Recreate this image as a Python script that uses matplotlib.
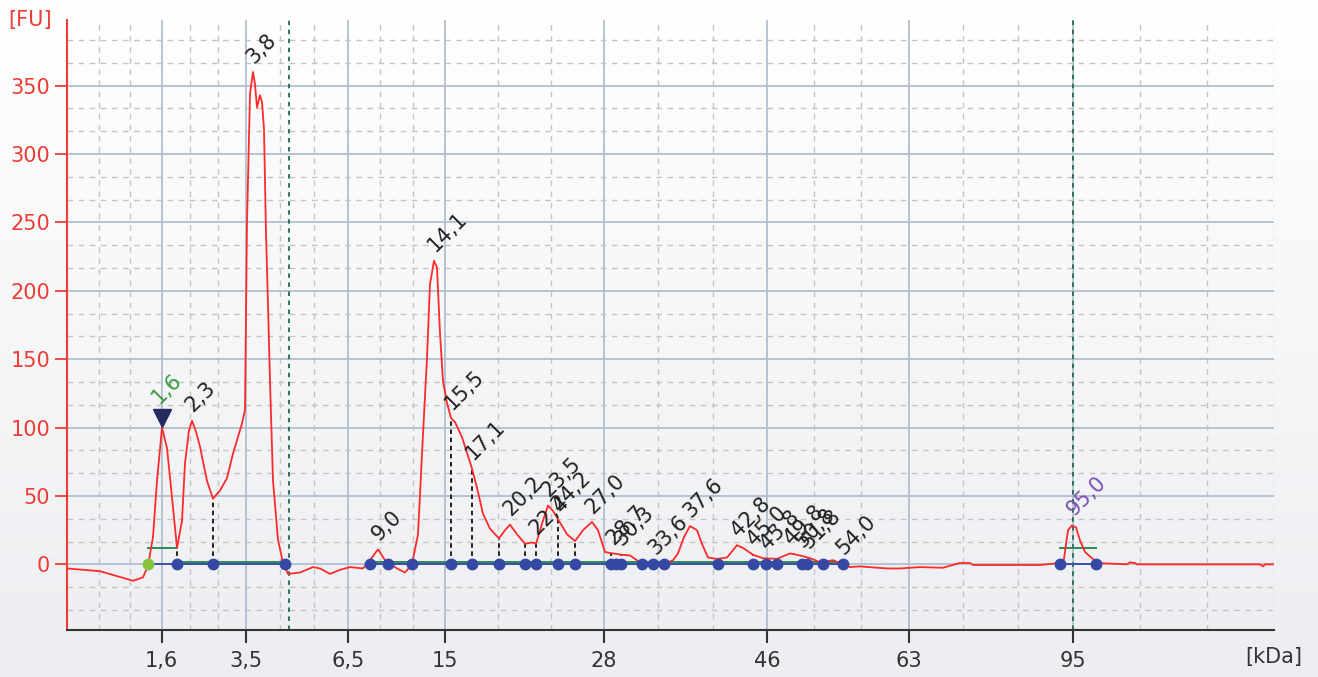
import numpy as np
import matplotlib.pyplot as plt

# migration position (arbitrary units) and fluorescence [FU]
trace_t = [0.0, 3.3, 6.6, 7.6, 8.1, 8.6, 9.0, 9.5, 10.0, 10.5, 11.0, 11.5, 11.8, 12.2, 12.5,
           12.9, 13.3, 14.0, 14.6, 15.3, 16.0, 16.6, 17.5, 17.8, 18.0, 18.3, 18.6, 18.8, 19.0,
           19.3, 19.5, 19.7, 19.9, 20.1, 20.3, 20.6, 21.1, 21.6, 22.1, 23.3, 24.6, 25.3, 26.3,
           27.3, 28.3, 29.6, 30.3, 31.1, 31.8, 33.0, 33.8, 34.5, 35.1, 35.6, 36.0, 36.3, 36.7,
           37.0, 37.3, 37.6, 38.0, 38.4, 38.8, 39.5, 40.5, 41.0, 41.6, 42.3, 43.2, 43.8, 44.3,
           45.0, 45.8, 46.5, 46.9, 47.6, 48.1, 48.6, 49.1, 50.0, 50.8, 51.6, 52.5, 53.1, 53.8,
           54.6, 55.5, 56.3, 57.0, 57.5, 59.6, 60.6, 61.1, 61.7, 62.3, 63.0, 63.5, 64.1, 65.0,
           66.0, 67.0, 67.6, 68.6, 69.6, 71.0, 72.3, 73.3, 74.3, 75.3, 76.6, 77.6, 78.3, 79.3,
           82.0, 83.3, 85.3, 87.6, 88.3, 89.3, 90.3, 90.6, 97.3, 99.3, 99.7, 100.1, 100.5,
           100.9, 101.3, 101.8, 102.5, 103.1, 106.0, 106.3, 106.8, 107.0, 119.3, 119.6, 119.8,
           120.6]
trace_fu = [-3, -5, -12, -9.5, -1, 20, 61, 100, 85, 49, 12, 32, 74, 98, 105,
            97, 86, 61, 48, 54, 63, 81, 103, 113, 250, 344, 360, 351, 334,
            343, 338, 318, 242, 190, 134, 61, 18, 1, -7, -6, -2, -3, -7,
            -4, -2, -3, 3, 11, 3, -3, -6, 0, 22, 95, 151, 205, 222,
            217, 169, 134, 118, 107, 104, 93, 70, 56, 37, 26, 19, 25, 29,
            22, 15, 16, 15, 32, 43, 39, 33, 22, 17, 25, 31, 25, 9,
            8, 7, 6.5, 3, 0, 0, 3, 8, 20, 28, 25, 15, 5, 4,
            5, 14, 12, 7, 4.5, 4, 8, 6.5, 4.5, 1.5, 3, 0, -2, -1.5,
            -3, -3, -2, -2.5, -1, 1, 1, -0.5, -0.5, 1, 4, 25, 28.5,
            27, 17.5, 9, 4.5, 1, 0, 1.5, 1, 0, 0, -1.5, 0,
            0]

# ladder: position of each size marker on the migration axis
ladder_t = [9.47, 17.87, 28.1, 37.8, 53.7, 70.0, 84.15, 100.63]
ladder_kda = ['1,6', '3,5', '6,5', '15', '28', '46', '63', '95']

# peaks: position, height, size label
peak_t = [12.5, 18.6, 31.1, 36.7, 38.4, 40.5, 44.3, 46.9, 48.1, 49.1, 52.5, 54.6, 55.4,
          58.8, 62.3, 67.0, 68.6, 69.9, 72.3, 73.5, 74.1, 77.6]
peak_fu = [105, 360, 11, 222, 107, 70, 29, 15, 43, 33, 31, 8, 7,
           1, 28, 14, 7, 4.5, 8, 6, 5, 1]
peak_lbl = ['2,3', '3,8', '9,0', '14,1', '15,5', '17,1', '20,2', '22,4', '23,5', '24,2', '27,0',
            '28,7', '30,3', '33,6', '37,6', '42,8', '45,0', '45,8', '49,8', '50,8', '51,8', '54,0']
lower_marker = (9.5, 100, '1,6')
upper_marker = (100.5, 28.5, '95,0')

# baseline / peak-boundary points
bound_t = [11.0, 14.6, 21.8, 30.3, 32.1, 34.5, 38.4, 40.5, 43.2, 45.8, 46.9, 49.1, 50.8,
           54.4, 54.9, 55.4, 57.5, 58.6, 59.7, 65.1, 68.6, 69.9, 71.0, 73.5, 74.0, 75.6,
           77.6, 99.3, 102.9]
drop_t = [11.0, 14.6, 38.4, 40.5, 43.2, 45.8, 46.9, 49.1, 50.8, 54.4, 55.4, 68.6, 69.9,
          73.5, 74.0]
baseline_segments = [(8.1, 21.8), (30.3, 77.6), (99.3, 102.9)]
width_segments = [(8.1, 11.0, 12), (11.3, 21.8, 2), (30.3, 77.6, 2), (99.3, 102.9, 12)]
region_lines = [22.2, 100.63]

RED = '#f03c34'
FS = 15
fig = plt.figure(figsize=(13.18, 6.77), dpi=100)

# light vertical gradient behind everything
bg = fig.add_axes([0, 0, 1, 1], zorder=-10)
grad = np.linspace(1, 0, 256).reshape(-1, 1)
top_c = np.array([1.0, 1.0, 1.0])
bot_c = np.array([0.925, 0.933, 0.945])
bg.imshow(top_c * grad[..., None] + bot_c * (1 - grad[..., None]), aspect='auto',
          extent=[0, 1, 0, 1])
bg.axis('off')

ax = fig.add_axes([67 / 1318, 47 / 677, 1207 / 1318, 610 / 677])
ax.set_facecolor('none')
ax.set_xlim(0, 120.7)
ax.set_ylim(-48, 398)

# grid
edges = [0] + ladder_t + [120.7]
minor_x = []
for a, b in zip(edges[:-1], edges[1:]):
    minor_x += [a + (b - a) / 3, a + 2 * (b - a) / 3]
minor_x.append(120.7)
for x in minor_x:
    ax.axvline(x, color='#c4c4c4', lw=1, ls=(0, (4, 4)), zorder=0)
for y in np.arange(-50, 400, 50 / 3):
    if abs(y / 50 - round(y / 50)) > 0.01:
        ax.axhline(y, color='#c4c4c4', lw=1, ls=(0, (4, 4)), zorder=0)
for x in ladder_t:
    ax.axvline(x, color='#b3bfcf', lw=1.3, zorder=0.5)
for y in range(0, 400, 50):
    ax.axhline(y, color='#b3bfcf', lw=1.3, zorder=0.5)

# region markers
for x in region_lines:
    ax.axvline(x, color='#1e6b4c', lw=1.3, ls=(0, (2.5, 2.5)), zorder=1)

# baseline and peak widths
for a, b in baseline_segments:
    ax.plot([a, b], [0, 0], color='#3a4ea8', lw=1.4, zorder=2)
for a, b, h in width_segments:
    ax.plot([a, b], [h, h], color='#2b8a55', lw=1.4, zorder=2)

# drop lines from baseline to the curve
for x in drop_t:
    top = np.interp(x, trace_t, trace_fu)
    ax.plot([x, x], [0, top], color='#111111', lw=1.3, ls=(0, (2.5, 2)), zorder=2)

# trace
ax.plot(trace_t, trace_fu, color='#ff2b2b', lw=1.3, zorder=3)

ax.plot(bound_t, np.zeros(len(bound_t)), ls='none', marker='o', ms=7.5,
        color='#3548a3', zorder=4)
ax.plot([8.1], [0], ls='none', marker='o', ms=7.5, color='#86c440', zorder=4)

# peak labels
for x, h, s in zip(peak_t, peak_fu, peak_lbl):
    ax.annotate(s, (x, h), xytext=(4, 5), textcoords='offset pixels', rotation=45,
                rotation_mode='anchor', ha='left', va='bottom', fontsize=FS,
                color='#222222', zorder=5)
lx, lh, ls_ = lower_marker
ax.plot([lx], [lh + 7], marker='v', ms=13, color='#222a5e', ls='none', zorder=5)
ax.annotate(ls_, (lx, lh), xytext=(0, 20), textcoords='offset pixels', rotation=45,
            rotation_mode='anchor', ha='left', va='bottom', fontsize=FS,
            color='#3c9a3c', zorder=5)
ux, uh, us = upper_marker
ax.annotate(us, (ux, uh), xytext=(5, 6), textcoords='offset pixels', rotation=45,
            rotation_mode='anchor', ha='left', va='bottom', fontsize=FS,
            color='#7a4fb5', zorder=5)

# axes styling
for s in ['top', 'right']:
    ax.spines[s].set_visible(False)
ax.spines['left'].set_color(RED)
ax.spines['left'].set_linewidth(1.5)
ax.spines['bottom'].set_color('#333333')
ax.spines['bottom'].set_linewidth(1.5)
ax.set_yticks(range(0, 400, 50))
ax.tick_params(axis='y', colors=RED, labelsize=FS, length=9, width=1.3, pad=3)
ax.set_xticks(ladder_t)
ax.set_xticklabels(ladder_kda)
ax.tick_params(axis='x', colors='#333333', labelsize=FS, length=9, width=1.5, pad=6)

fig.text(8 / 1318, 1 - 20 / 677, '[FU]', color=RED, fontsize=FS, va='center', ha='left')
fig.text(1302 / 1318, 1 - 657 / 677, '[kDa]', color='#333333', fontsize=FS,
         va='center', ha='right')

fig.savefig('out.png', dpi=100, facecolor=fig.get_facecolor())
